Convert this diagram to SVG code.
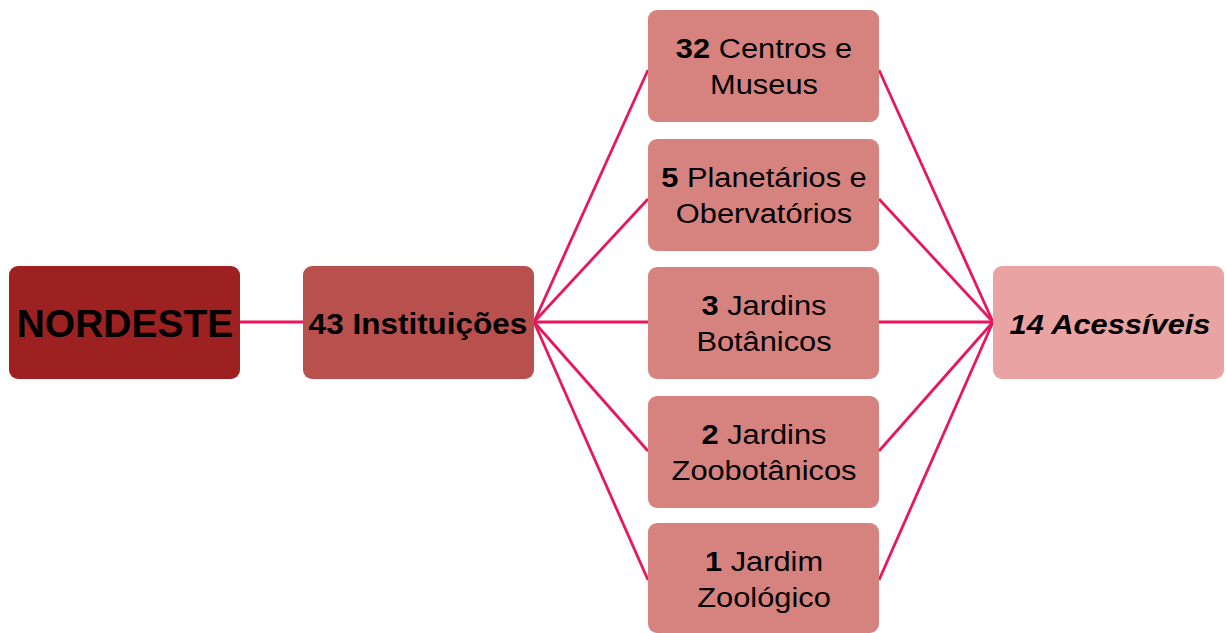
<svg xmlns="http://www.w3.org/2000/svg" width="1226" height="633" viewBox="0 0 1226 633">
<style>
.c{stroke:#E8175D;stroke-width:2.8;fill:none}
.box{stroke:none}
.n1{fill:#9E2121}
.n2{fill:#B8504D}
.n3{fill:#D6827F}
.n4{fill:#E8A3A2}
text{font-family:"Liberation Sans",Arial,sans-serif;fill:#000;text-anchor:middle}
.t{font-size:28px}
.b{font-weight:bold}
</style>
<rect width="1226" height="633" fill="#fff"/>
<g id="connectors">
<line class="c" x1="240" y1="322" x2="303" y2="322"/>
<line class="c" x1="534" y1="322" x2="648" y2="70"/>
<line class="c" x1="534" y1="322" x2="648" y2="199"/>
<line class="c" x1="534" y1="322" x2="648" y2="322"/>
<line class="c" x1="534" y1="322" x2="648" y2="451"/>
<line class="c" x1="534" y1="322" x2="648" y2="580"/>
<line class="c" x1="879" y1="70" x2="993" y2="322"/>
<line class="c" x1="879" y1="199" x2="993" y2="322"/>
<line class="c" x1="879" y1="322" x2="993" y2="322"/>
<line class="c" x1="879" y1="451" x2="993" y2="322"/>
<line class="c" x1="879" y1="580" x2="993" y2="322"/>
</g>
<g id="nordeste">
<rect class="box n1" x="9" y="266" width="231" height="113" rx="9"/>
<text class="b" style="font-size:39px" x="125" y="337">NORDESTE</text>
</g>
<g id="instituicoes">
<rect class="box n2" x="303" y="266" width="231" height="113" rx="9"/>
<text class="b" style="font-size:30px" transform="translate(418,334) scale(1.05,1)">43 Instituições</text>
</g>
<g id="centros">
<rect class="box n3" x="648" y="10" width="231" height="112" rx="9"/>
<text class="t" transform="translate(764,58) scale(1.1,1)"><tspan class="b">32</tspan> Centros e</text>
<text class="t" transform="translate(764,94) scale(1.1,1)">Museus</text>
</g>
<g id="planetarios">
<rect class="box n3" x="648" y="139" width="231" height="112" rx="9"/>
<text class="t" transform="translate(764,187) scale(1.1,1)"><tspan class="b">5</tspan> Planetários e</text>
<text class="t" transform="translate(764,223) scale(1.1,1)">Obervatórios</text>
</g>
<g id="botanicos">
<rect class="box n3" x="648" y="267" width="231" height="112" rx="9"/>
<text class="t" transform="translate(764,315) scale(1.1,1)"><tspan class="b">3</tspan> Jardins</text>
<text class="t" transform="translate(764,351) scale(1.1,1)">Botânicos</text>
</g>
<g id="zoobotanicos">
<rect class="box n3" x="648" y="396" width="231" height="112" rx="9"/>
<text class="t" transform="translate(764,444) scale(1.1,1)"><tspan class="b">2</tspan> Jardins</text>
<text class="t" transform="translate(764,480) scale(1.1,1)">Zoobotânicos</text>
</g>
<g id="zoologico">
<rect class="box n3" x="648" y="523" width="231" height="110" rx="9"/>
<text class="t" transform="translate(764,571) scale(1.1,1)"><tspan class="b">1</tspan> Jardim</text>
<text class="t" transform="translate(764,607) scale(1.1,1)">Zoológico</text>
</g>
<g id="acessiveis">
<rect class="box n4" x="993" y="266" width="231" height="113" rx="9"/>
<text class="b" style="font-size:28px;font-style:italic" transform="translate(1110,334) scale(1.1,1)">14 Acessíveis</text>
</g>
</svg>
